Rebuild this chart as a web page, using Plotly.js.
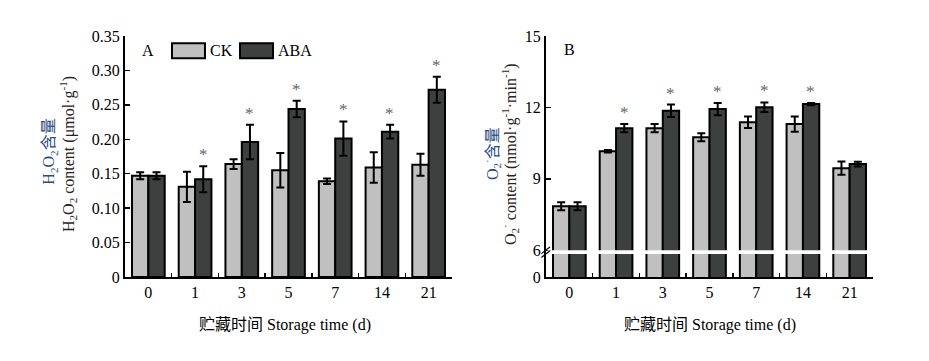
<!DOCTYPE html>
<html>
<head>
<meta charset="utf-8">
<script src="https://cdn.plot.ly/plotly-3.0.1.min.js"></script>
<style>html,body{margin:0;padding:0;background:#fff;}#chart{width:929px;height:361px;}</style>
</head>
<body>
<div id="chart"></div>
<script>
// ---- data ----
var days = ['0', '1', '3', '5', '7', '14', '21'];

// Panel A: H2O2 content (umol/g)
var h2o2CK      = [0.147, 0.131, 0.164, 0.155, 0.139, 0.159, 0.163];
var h2o2CKErr   = [0.005, 0.022, 0.007, 0.025, 0.004, 0.022, 0.016];
var h2o2ABA     = [0.147, 0.142, 0.196, 0.244, 0.201, 0.211, 0.272];
var h2o2ABAErr  = [0.005, 0.019, 0.025, 0.012, 0.025, 0.010, 0.019];
var h2o2Sig     = [false, true, true, true, true, true, true];

// Panel B: O2- content (nmol/g/min)
var o2CK        = [7.85, 10.16, 11.13, 10.75, 11.38, 11.30, 9.45];
var o2CKErr     = [0.17, 0.05, 0.17, 0.17, 0.24, 0.32, 0.28];
var o2ABA       = [7.85, 11.13, 11.86, 11.93, 12.01, 12.14, 9.62];
var o2ABAErr    = [0.17, 0.17, 0.26, 0.26, 0.20, 0.05, 0.10];
var o2Sig       = [false, true, true, true, true, true, false];

var yTicksA = [0, 0.05, 0.10, 0.15, 0.20, 0.25, 0.30, 0.35];
var yTickTextA = ['0', '0.05', '0.10', '0.15', '0.20', '0.25', '0.30', '0.35'];
var breakLow = 4.877;   // axis bottom of broken axis (shown as 0)
var yTicksB = [breakLow, 6, 9, 12, 15];
var yTickTextB = ['0', '6', '9', '12', '15'];

// ---- styles ----
var FONT = 'Liberation Serif, Times New Roman, Noto Sans CJK SC, serif';
var CK_COLOR = '#c0c0c0', ABA_COLOR = '#3d403e';

function barTrace(name, y, err, color, xa, ya) {
  return {
    type: 'bar', name: name, x: days, y: y, xaxis: xa, yaxis: ya,
    marker: {color: color, line: {color: '#000', width: 2}},
    error_y: {type: 'data', array: err, visible: true, color: '#000', thickness: 2, width: 4},
    showlegend: false, hoverinfo: 'skip'
  };
}

var data = [
  barTrace('CK', h2o2CK, h2o2CKErr, CK_COLOR, 'x', 'y'),
  barTrace('ABA', h2o2ABA, h2o2ABAErr, ABA_COLOR, 'x', 'y'),
  barTrace('CK', o2CK, o2CKErr, CK_COLOR, 'x2', 'y2'),
  barTrace('ABA', o2ABA, o2ABAErr, ABA_COLOR, 'x2', 'y2')
];

var W = 929, L = 125, PW = 327, L2 = 546;
function xAxis(domainStart, anchor) {
  return {
    domain: [domainStart / W, (domainStart + PW) / W], anchor: anchor,
    type: 'category', range: [-0.5, 6.5], fixedrange: true,
    showline: true, linecolor: '#000', linewidth: 2,
    ticks: 'inside', tickson: 'boundaries', ticklen: 4, tickwidth: 1.5, tickcolor: '#000',
    tickfont: {family: FONT, size: 16, color: '#000'},
    showgrid: false, zeroline: false
  };
}
function yAxis(anchor, range, tv, tt) {
  return {
    anchor: anchor, range: range, tickvals: tv, ticktext: tt, fixedrange: true,
    showline: true, linecolor: '#000', linewidth: 2,
    ticks: 'inside', ticklen: 5, tickwidth: 1.5, tickcolor: '#000',
    tickfont: {family: FONT, size: 16, color: '#000'},
    showgrid: false, zeroline: false
  };
}

var annotations = [];
var shapes = [];

// stars above ABA bars (x given as category serial number)
function addStars(sig, vals, errs, xa, ya) {
  for (var i = 0; i < days.length; i++) {
    if (!sig[i]) continue;
    annotations.push({
      xref: xa, yref: ya, x: i, y: vals[i] + errs[i],
      xshift: 8, yshift: 0, yanchor: 'bottom', xanchor: 'center',
      text: '*', showarrow: false,
      font: {family: FONT, size: 17, color: '#666'}
    });
  }
}
addStars(h2o2Sig, h2o2ABA, h2o2ABAErr, 'x', 'y');
addStars(o2Sig, o2ABA, o2ABAErr, 'x2', 'y2');

// panel labels
annotations.push({xref: 'x domain', yref: 'y domain', x: 0.07, y: 0.94, text: 'A', showarrow: false,
  xanchor: 'center', yanchor: 'middle', font: {family: FONT, size: 16, color: '#000'}});
annotations.push({xref: 'x2 domain', yref: 'y2 domain', x: 0.073, y: 0.945, text: 'B', showarrow: false,
  xanchor: 'center', yanchor: 'middle', font: {family: FONT, size: 16, color: '#000'}});

// legend (panel A)
shapes.push({type: 'rect', xref: 'x domain', yref: 'y domain', x0: 0.1437, x1: 0.2446, y0: 0.9075, y1: 0.970,
  fillcolor: CK_COLOR, line: {color: '#000', width: 2}});
shapes.push({type: 'rect', xref: 'x domain', yref: 'y domain', x0: 0.3517, x1: 0.4526, y0: 0.9075, y1: 0.970,
  fillcolor: ABA_COLOR, line: {color: '#000', width: 2}});
annotations.push({xref: 'x domain', yref: 'y domain', x: 0.254, y: 0.939, text: 'CK', showarrow: false,
  xanchor: 'left', yanchor: 'middle', font: {family: FONT, size: 16, color: '#000'}});
annotations.push({xref: 'x domain', yref: 'y domain', x: 0.462, y: 0.939, text: 'ABA', showarrow: false,
  xanchor: 'left', yanchor: 'middle', font: {family: FONT, size: 16, color: '#000'}});

// axis titles
var xTitle = '贮藏时间 Storage time (d)';
annotations.push({xref: 'x domain', yref: 'paper', x: 0.49, y: -0.20, text: xTitle, showarrow: false,
  xanchor: 'center', yanchor: 'middle', font: {family: FONT, size: 16, color: '#000'}});
annotations.push({xref: 'x2 domain', yref: 'paper', x: 0.5, y: -0.20, text: xTitle, showarrow: false,
  xanchor: 'center', yanchor: 'middle', font: {family: FONT, size: 16, color: '#000'}});

annotations.push({xref: 'paper', yref: 'paper', x: 50 / W, y: 0.52, textangle: -90,
  text: 'H<sub>2</sub>O<sub>2</sub>含量', showarrow: false, xanchor: 'center', yanchor: 'middle',
  font: {family: FONT, size: 16, color: '#2a4a80'}});
annotations.push({xref: 'paper', yref: 'paper', x: 68 / W, y: 0.51, textangle: -90,
  text: 'H<sub>2</sub>O<sub>2</sub> content (μmol·g<sup>-1</sup>)', showarrow: false, xanchor: 'center', yanchor: 'middle',
  font: {family: FONT, size: 16, color: '#2a2420'}});
annotations.push({xref: 'paper', yref: 'paper', x: 492 / W, y: 0.51, textangle: -90,
  text: 'O<sub>2</sub><sup>·</sup>含量', showarrow: false, xanchor: 'center', yanchor: 'middle',
  font: {family: FONT, size: 16, color: '#2a4a80'}});
annotations.push({xref: 'paper', yref: 'paper', x: 510 / W, y: 0.51, textangle: -90,
  text: 'O<sub>2</sub><sup>·</sup> content (nmol·g<sup>-1</sup>·min<sup>-1</sup>)', showarrow: false, xanchor: 'center', yanchor: 'middle',
  font: {family: FONT, size: 16, color: '#2a2420'}});

// axis break on panel B
shapes.push({type: 'rect', xref: 'x2 domain', yref: 'y2', x0: 0.004, x1: 1.01, y0: 5.84, y1: 6.0,
  fillcolor: '#fff', line: {width: 0}, layer: 'above'});
shapes.push({type: 'line', xref: 'x2 domain', yref: 'y2', x0: -0.014, x1: 0.012, y0: 5.70, y1: 5.98,
  line: {color: '#000', width: 1.2}, layer: 'above'});
shapes.push({type: 'line', xref: 'x2 domain', yref: 'y2', x0: -0.014, x1: 0.012, y0: 5.86, y1: 6.14,
  line: {color: '#000', width: 1.2}, layer: 'above'});

var layout = {
  width: 929, height: 361,
  margin: {l: 0, r: 0, t: 36, b: 84},
  paper_bgcolor: '#fff', plot_bgcolor: '#fff',
  barmode: 'group', bargap: 0.3, bargroupgap: 0,
  showlegend: false,
  font: {family: FONT, size: 16, color: '#000'},
  xaxis: xAxis(L, 'y'),
  yaxis: yAxis('x', [0, 0.35], yTicksA, yTickTextA),
  xaxis2: xAxis(L2, 'y2'),
  yaxis2: yAxis('x2', [breakLow, 15], yTicksB, yTickTextB),
  annotations: annotations,
  shapes: shapes
};

Plotly.newPlot('chart', data, layout, {displayModeBar: false, staticPlot: true});
</script>
</body>
</html>
